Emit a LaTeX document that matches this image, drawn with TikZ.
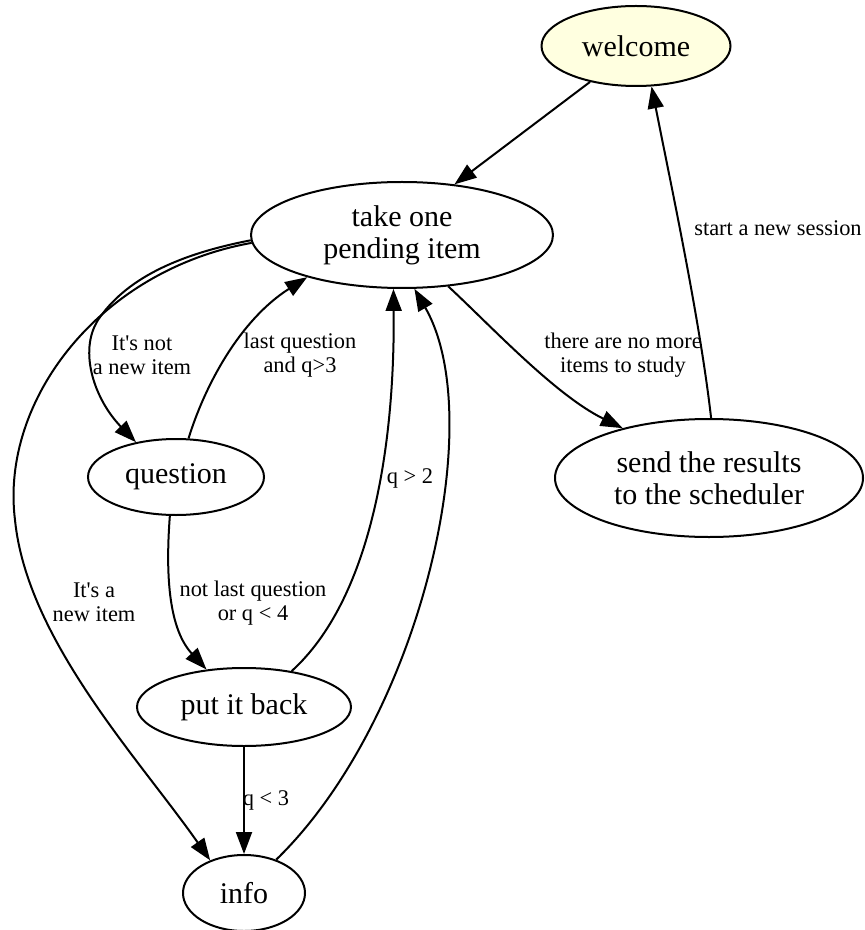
\documentclass[tikz,border=0pt]{standalone}
\usepackage{fontspec}
\setmainfont{Liberation Serif}
\usetikzlibrary{arrows.meta,shapes.geometric}
\definecolor{welcomefill}{HTML}{FFFFE0}
\begin{document}
\begin{tikzpicture}[x=0.5pt,y=-0.5pt,
  state/.style={ellipse, draw, line width=1pt, inner sep=0pt, align=center,
    font=\fontsize{15pt}{16pt}\selectfont},
  edge/.style={line width=1pt, -{Triangle[length=11pt,width=8pt]}},
  elabel/.style={align=center, inner sep=0pt, font=\fontsize{11.2pt}{12pt}\selectfont}]
\useasboundingbox (0,0) rectangle (864,930);

% states
\node[state, fill=welcomefill, minimum width=94.5pt, minimum height=40pt] (welcome) at (636,46) {welcome};
\node[state, minimum width=151pt, minimum height=53pt] (take) at (402,235) {take one\\pending item};
\node[state, minimum width=88pt, minimum height=38pt] (question) at (176,477) {question};
\node[state, minimum width=107pt, minimum height=39pt] (put) at (244,707) {put it back};
\node[state, minimum width=61pt, minimum height=38pt] (info) at (244,893) {info};
\node[state, minimum width=154pt, minimum height=59pt] (send) at (709,478) {send the results\\to the scheduler};

% transitions
\draw[edge] (welcome.218) -- (take.44);
\draw[edge] (send.88) .. controls (700,320) and (670,180) .. (welcome.291);
\draw[edge] (take.312) .. controls (490,325) and (555,395) .. (send.150);
\draw[edge] (take.182) .. controls (175,255) and (125,280) .. (98,320)
                       .. controls (78,352) and (95,400) .. (question.139);
\draw[edge] (question.72) .. controls (205,385) and (240,320) .. (take.204);
\draw[edge] (take.183) .. controls (100,270) and (0,400) .. (15,520)
                       .. controls (27,640) and (140,760) .. (info.136);
\draw[edge] (question.261) .. controls (165,580) and (170,630) .. (put.135);
\draw[edge] (put.37) .. controls (370,600) and (395,450) .. (take.261);
\draw[edge] (info.46) .. controls (420,720) and (490,420) .. (take.283);
\draw[edge] (put.south) -- (info.north);

% transition labels
\node[elabel] (lsession) at (778,228) {start a new session};
\node[elabel] (lnomore) at (623,355) {there are no more\\items to study};
\node[elabel] (lnotnew) at (142,355) {It\textquotesingle s not\\a new item};
\node[elabel] (llast) at (300,355) {last question\\and q>3};
\node[elabel] (lgt) at (410,478) {q > 2};
\node[elabel] (lnew) at (94,602) {It\textquotesingle s a\\new item};
\node[elabel] (lnotlast) at (253,603) {not last question\\or q < 4};
\node[elabel] (llt) at (266,800) {q < 3};
\end{tikzpicture}
\end{document}
